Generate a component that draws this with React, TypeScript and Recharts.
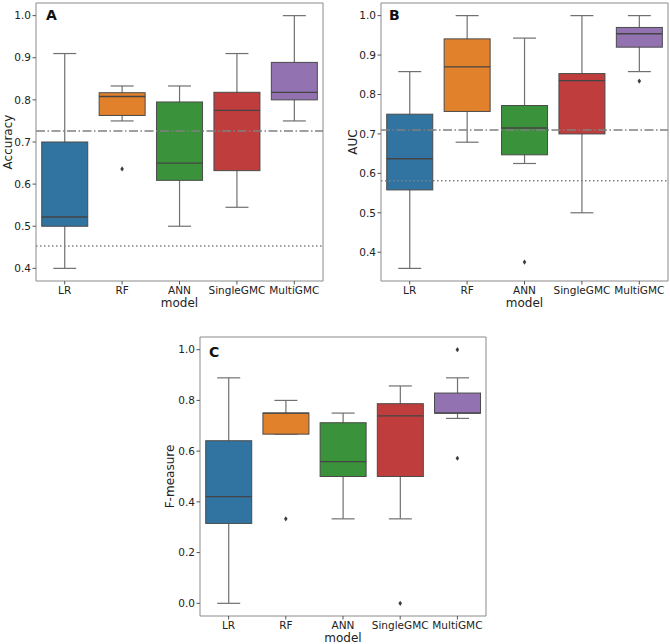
import React from 'react';
import { ComposedChart, Bar, XAxis, YAxis, Scatter, ReferenceLine } from 'recharts';

const models = ['LR', 'RF', 'ANN', 'SingleGMC', 'MultiGMC'];
const colors = ['#3274a1', '#e1812c', '#3a923a', '#c03d3e', '#9372b2'];

// Panel A – Accuracy
const accLow = [0.40, 0.75, 0.50, 0.545, 0.75];
const accQ1 = [0.50, 0.763, 0.609, 0.632, 0.80];
const accMed = [0.522, 0.808, 0.65, 0.775, 0.818];
const accQ3 = [0.70, 0.817, 0.795, 0.818, 0.889];
const accHigh = [0.91, 0.833, 0.833, 0.91, 1.0];
const accOut1 = [null, 0.636, null, null, null];
const accOut2 = [null, null, null, null, null];
const accBaselines = [0.726, 0.453];
const accTicks = [0.4, 0.5, 0.6, 0.7, 0.8, 0.9, 1.0];

// Panel B – AUC
const aucLow = [0.359, 0.679, 0.625, 0.50, 0.858];
const aucQ1 = [0.558, 0.757, 0.647, 0.70, 0.92];
const aucMed = [0.637, 0.87, 0.715, 0.835, 0.954];
const aucQ3 = [0.75, 0.941, 0.772, 0.853, 0.97];
const aucHigh = [0.858, 1.0, 0.943, 1.0, 1.0];
const aucOut1 = [null, null, 0.375, null, 0.834];
const aucOut2 = [null, null, null, null, null];
const aucBaselines = [0.71, 0.581];
const aucTicks = [0.4, 0.5, 0.6, 0.7, 0.8, 0.9, 1.0];

// Panel C – F-measure
const fLow = [0.0, 0.667, 0.333, 0.333, 0.729];
const fQ1 = [0.315, 0.667, 0.50, 0.50, 0.75];
const fMed = [0.421, 0.75, 0.559, 0.739, 0.75];
const fQ3 = [0.641, 0.75, 0.712, 0.787, 0.829];
const fHigh = [0.889, 0.80, 0.75, 0.857, 0.889];
const fOut1 = [null, 0.333, null, 0.0, 1.0];
const fOut2 = [null, null, null, null, 0.572];
const fTicks = [0.0, 0.2, 0.4, 0.6, 0.8, 1.0];

const FRAME = '#8a8a8a';
const TEXT = '#222';
const FONT = '"DejaVu Sans", sans-serif';

function buildRows(low: number[], q1: number[], med: number[], q3: number[], high: number[], o1: (number | null)[], o2: (number | null)[]) {
  return models.map((m, i) => ({
    model: m,
    fill: colors[i],
    whisker: [low[i], high[i]],
    box: [q1[i], q3[i]],
    median: [low[i], med[i]],
    out1: o1[i],
    out2: o2[i],
  }));
}

const accRows = buildRows(accLow, accQ1, accMed, accQ3, accHigh, accOut1, accOut2);
const aucRows = buildRows(aucLow, aucQ1, aucMed, aucQ3, aucHigh, aucOut1, aucOut2);
const fRows = buildRows(fLow, fQ1, fMed, fQ3, fHigh, fOut1, fOut2);

const span = (p: any) => {
  const top = Math.min(p.y, p.y + p.height);
  const bot = Math.max(p.y, p.y + p.height);
  return { top, bot };
};

const WhiskerShape = (p: any) => {
  const { top, bot } = span(p);
  const cx = p.x + p.width / 2;
  const cap = p.width / 4;
  return (
    <g stroke="#707070" strokeWidth={1.2}>
      <line x1={cx} x2={cx} y1={top} y2={bot} />
      <line x1={cx - cap} x2={cx + cap} y1={top} y2={top} />
      <line x1={cx - cap} x2={cx + cap} y1={bot} y2={bot} />
    </g>
  );
};

const BoxShape = (p: any) => {
  const { top, bot } = span(p);
  return (
    <rect x={p.x} y={top} width={p.width} height={bot - top} fill={p.payload.fill} stroke="#4a4a4a" strokeWidth={1} />
  );
};

const MedianShape = (p: any) => {
  const { top } = span(p);
  return <line x1={p.x} x2={p.x + p.width} y1={top} y2={top} stroke="#444" strokeWidth={1.3} />;
};

const makeOutShape = (key: string) => (p: any) => {
  if (p.payload == null || p.payload[key] == null || !isFinite(p.cy)) return <g />;
  const { cx, cy } = p;
  return <path d={`M${cx},${cy - 2.6} L${cx + 1.8},${cy} L${cx},${cy + 2.6} L${cx - 1.8},${cy} Z`} fill="#3d3d3d" />;
};
const Out1Shape = makeOutShape('out1');
const Out2Shape = makeOutShape('out2');

type PanelProps = {
  rows: any[];
  domain: [number, number];
  ticks: number[];
  yLabel: string;
  letter: string;
  baselines: number[];
  left: number;
  top: number;
  width: number;
  height: number;
  margin: any;
  yWidth: number;
  yLabelOffset: number;
  letterPos: { left: number; top: number };
};

function Panel(props: PanelProps) {
  const { rows, domain, ticks, yLabel, letter, baselines, left, top, width, height, margin, yWidth, yLabelOffset, letterPos } = props;
  return (
    <div style={{ position: 'absolute', left, top, width, height }}>
      <ComposedChart width={width} height={height} data={rows} margin={margin} barCategoryGap="10%" style={{ fontFamily: FONT }}>
        <XAxis
          xAxisId="box"
          dataKey="model"
          type="category"
          height={margin.bottomAxis}
          interval={0}
          tickSize={3.5}
          tickMargin={2}
          stroke={FRAME}
          tick={{ fontSize: 10.5, fill: TEXT, fontFamily: FONT }}
          tickLine={{ stroke: '#555' }}
          label={{ value: 'model', position: 'insideBottom', offset: 0, fontSize: 12, fill: TEXT, fontFamily: FONT }}
        />
        <XAxis xAxisId="wh" orientation="top" dataKey="model" height={1} tick={false} tickLine={false} stroke={FRAME} />
        <XAxis xAxisId="md" dataKey="model" hide />
        <YAxis
          yAxisId={0}
          type="number"
          domain={domain}
          ticks={ticks}
          allowDataOverflow
          width={yWidth}
          tickSize={3.5}
          tickMargin={1.5}
          stroke={FRAME}
          tick={{ fontSize: 10.5, fill: TEXT, fontFamily: FONT }}
          tickLine={{ stroke: '#555' }}
          tickFormatter={(v: number) => v.toFixed(1)}
          label={{ value: yLabel, angle: -90, position: 'insideLeft', offset: yLabelOffset, fontSize: 12, fill: TEXT, fontFamily: FONT, style: { textAnchor: 'middle' } }}
        />
        <YAxis yAxisId="r" orientation="right" type="number" domain={domain} allowDataOverflow width={1} tick={false} tickLine={false} stroke={FRAME} />
        <Bar xAxisId="wh" yAxisId={0} dataKey="whisker" shape={WhiskerShape} isAnimationActive={false} />
        <Bar xAxisId="box" yAxisId={0} dataKey="box" shape={BoxShape} isAnimationActive={false} />
        <Bar xAxisId="md" yAxisId={0} dataKey="median" shape={MedianShape} isAnimationActive={false} />
        <Scatter xAxisId="box" yAxisId={0} dataKey="out1" shape={Out1Shape} isAnimationActive={false} />
        <Scatter xAxisId="box" yAxisId={0} dataKey="out2" shape={Out2Shape} isAnimationActive={false} />
        {baselines.length > 0 && (
          <ReferenceLine xAxisId="box" yAxisId={0} y={baselines[0]} stroke="#808080" strokeWidth={1.5} strokeDasharray="9 2.5 1.5 2.5" />
        )}
        {baselines.length > 1 && (
          <ReferenceLine xAxisId="box" yAxisId={0} y={baselines[1]} stroke="#808080" strokeWidth={1.5} strokeDasharray="1.5 2.5" />
        )}
      </ComposedChart>
      <div
        style={{
          position: 'absolute',
          left: letterPos.left,
          top: letterPos.top,
          fontFamily: FONT,
          fontWeight: 'bold',
          fontSize: 14,
          lineHeight: '14px',
          color: '#111',
        }}
      >
        {letter}
      </div>
    </div>
  );
}

export default function App() {
  return (
    <div style={{ position: 'absolute', left: 0, top: 0, width: 670, height: 644, background: '#fff' }}>
      <Panel
        rows={accRows}
        domain={[0.37, 1.03]}
        ticks={accTicks}
        yLabel="Accuracy"
        letter="A"
        baselines={accBaselines}
        left={0}
        top={0}
        width={335}
        height={310}
        margin={{ top: 2, right: 11, bottom: 3, left: 0, bottomAxis: 26 }}
        yWidth={36}
        yLabelOffset={8}
        letterPos={{ left: 46, top: 8 }}
      />
      <Panel
        rows={aucRows}
        domain={[0.327, 1.032]}
        ticks={aucTicks}
        yLabel="AUC"
        letter="B"
        baselines={aucBaselines}
        left={335}
        top={0}
        width={335}
        height={310}
        margin={{ top: 2, right: 1, bottom: 3, left: 0, bottomAxis: 26 }}
        yWidth={46}
        yLabelOffset={18}
        letterPos={{ left: 54, top: 8 }}
      />
      <Panel
        rows={fRows}
        domain={[-0.05, 1.05]}
        ticks={fTicks}
        yLabel="F-measure"
        letter="C"
        baselines={[]}
        left={160}
        top={320}
        width={340}
        height={324}
        margin={{ top: 16, right: 13, bottom: 2, left: 0, bottomAxis: 26 }}
        yWidth={40}
        yLabelOffset={10}
        letterPos={{ left: 49, top: 25 }}
      />
    </div>
  );
}
